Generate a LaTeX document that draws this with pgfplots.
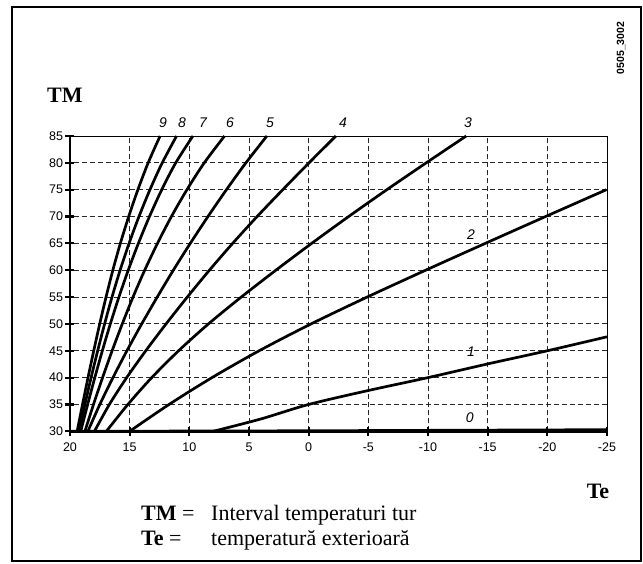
\documentclass[border=0pt]{standalone}
\usepackage{fontspec}
\setmainfont{Liberation Serif}
\setsansfont{Liberation Sans}
\usepackage{pgfplots}
\pgfplotsset{compat=1.18}
\begin{document}
\begin{tikzpicture}[x=1pt,y=1pt]
\useasboundingbox (0,0) rectangle (643,563);
\draw[line width=2pt] (12,2) rectangle (641,556);
\node[anchor=base west,font=\bfseries\fontsize{22}{24}\selectfont,inner sep=0pt] at (47,460) {TM};
\node[rotate=90,font=\sffamily\bfseries\fontsize{10.5}{12}\selectfont,inner sep=0pt] at (621,515) {0505\_3002};
\node[anchor=base,font=\bfseries\fontsize{22}{24}\selectfont,inner sep=0pt] at (598,65) {Te};
\node[anchor=base west,font=\fontsize{22}{24}\selectfont,inner sep=0pt] at (141,43) {\textbf{TM} =};
\node[anchor=base west,font=\fontsize{22}{24}\selectfont,inner sep=0pt] at (141,18) {\textbf{Te} =};
\node[anchor=base west,font=\fontsize{22}{24}\selectfont,inner sep=0pt] at (211,43) {Interval temperaturi tur};
\node[anchor=base west,font=\fontsize{22}{24}\selectfont,inner sep=0pt] at (211,18) {temperatură exterioară};
\begin{axis}[at={(70pt,131.7pt)}, anchor=south west, scale only axis,
  width=537pt, height=295.3pt,
  x dir=reverse, xmin=-25, xmax=20, ymin=30, ymax=85,
  xtick={-25,-20,-15,-10,-5,0,5,10,15,20},
  xticklabels={-25,-20,-15,-10,-5,0,5,10,15,20},
  ytick={30,35,40,45,50,55,60,65,70,75,80,85},
  yticklabels={30,35,40,45,50,55,60,65,70,75,80,85},
  grid=major,
  grid style={dash pattern=on 5pt off 3pt, line width=0.9pt, black!85},
  axis line style={line width=0.8pt},
  tick pos=left, tick align=center, major tick length=9pt,
  tick style={line width=2.2pt, black},
  xticklabel style={font=\sffamily\fontsize{12.5}{14}\selectfont, text height=9pt, text depth=0pt, yshift=-3pt},
  yticklabel style={font=\sffamily\fontsize{12.5}{14}\selectfont, xshift=1pt},
  clip=false,
  curve/.style={line width=2.7pt, black, no marks, smooth},
]
% curve 0
\addplot[curve] coordinates {(20,30) (0,30.1) (-25,30.3)};
% curve 1
\addplot[curve] coordinates {(8.0,30) (4,32.3) (0.0,35) (-5,37.6) (-10,40) (-15,42.55) (-20,45) (-25,47.6)};
% curve 2
\addplot[curve] coordinates {(15,30) (11.7,35) (8.1,40) (4.15,45) (-0.2,50) (-4.9,55) (-9.8,60) (-14.8,65) (-19.85,70) (-24.95,75)};
% curve 3
\addplot[curve] coordinates {(16.95,30) (15.15,35) (13.15,40) (10.9,45) (8.4,50) (5.65,55) (2.75,60) (-0.25,65) (-3.35,70) (-6.55,75) (-9.85,80) (-13.2,85)};
% curve 4
\addplot[curve] coordinates {(17.95,30) (16.7,35) (15.25,40) (13.65,45) (11.95,50) (10.17,55) (8.32,60) (6.37,65) (4.32,70) (2.17,75) (-0.03,80) (-2.28,85)};
% curve 5
\addplot[curve] coordinates {(18.5,30) (17.5,35) (16.4,40) (15.23,45) (13.99,50) (12.69,55) (11.34,60) (9.92,65) (8.44,70) (6.89,75) (5.26,80) (3.5,85)};
% curve 6
\addplot[curve] coordinates {(18.75,30) (18.03,35) (17.27,40) (16.47,45) (15.62,50) (14.72,55) (13.74,60) (12.67,65) (11.5,70) (10.2,75) (8.75,80) (7.05,85)};
% curve 7
\addplot[curve] coordinates {(19.1,30) (18.52,35) (17.92,40) (17.29,45) (16.62,50) (15.9,55) (15.12,60) (14.27,65) (13.34,70) (12.31,75) (11.14,80) (9.7,85)};
% curve 8
\addplot[curve] coordinates {(19.25,30) (18.75,35) (18.23,40) (17.68,45) (17.1,50) (16.48,55) (15.8,60) (15.05,65) (14.22,70) (13.3,75) (12.27,80) (11.07,85)};
% curve 9
\addplot[curve] coordinates {(19.4,30) (18.95,35) (18.49,40) (18.01,45) (17.51,50) (16.98,55) (16.41,60) (15.78,65) (15.08,70) (14.31,75) (13.45,80) (12.45,85)};
\draw[line width=2.6pt] (axis cs:20,85) -- (axis cs:20,30) -- (axis cs:-25,30);
\begin{scope}[font=\sffamily\itshape\fontsize{14}{16}\selectfont]
\node at (axis cs:12.21,87.4) {9};
\node at (axis cs:10.61,87.4) {8};
\node at (axis cs:8.85,87.4) {7};
\node at (axis cs:6.59,87.4) {6};
\node at (axis cs:3.24,87.4) {5};
\node at (axis cs:-2.88,87.4) {4};
\node at (axis cs:-13.35,87.5) {3};
\node at (axis cs:-13.6,66.6) {2};
\node at (axis cs:-13.6,44.8) {1};
\node at (axis cs:-13.5,32.5) {0};
\end{scope}
\end{axis}
\end{tikzpicture}
\end{document}
